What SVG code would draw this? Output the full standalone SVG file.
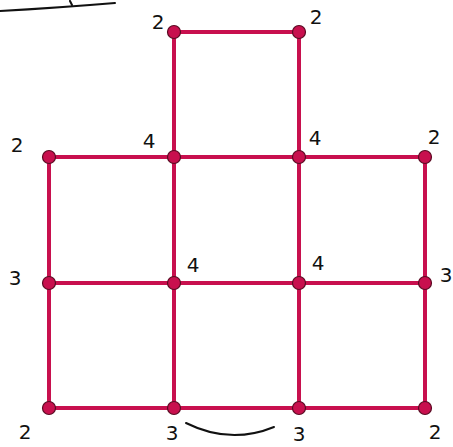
<svg xmlns="http://www.w3.org/2000/svg" width="453" height="447" viewBox="0 0 453 447">
<style>
.e{stroke:#c8104e;stroke-width:4;stroke-linecap:round;fill:none}
.n{fill:#c8104e;stroke:#5a0a22;stroke-width:1.2}
.l{font-family:"Comic Sans MS","DejaVu Sans",sans-serif;font-size:20px;fill:#111;text-anchor:middle}
.s{stroke:#111;stroke-width:2;fill:none;stroke-linecap:round}
</style>
<rect width="453" height="447" fill="#fff"/>
<g id="connectors">
<line class="e" x1="174" y1="32" x2="299" y2="32"/>
<line class="e" x1="174" y1="32" x2="174" y2="408"/>
<line class="e" x1="299" y1="32" x2="299" y2="408"/>
<line class="e" x1="49" y1="157" x2="425" y2="157"/>
<line class="e" x1="49" y1="283" x2="425" y2="283"/>
<line class="e" x1="49" y1="408" x2="425" y2="408"/>
<line class="e" x1="49" y1="157" x2="49" y2="408"/>
<line class="e" x1="425" y1="157" x2="425" y2="408"/>
</g>
<g id="n1"><circle class="n" cx="174" cy="32" r="6.5"/><text class="l" x="158" y="29">2</text></g>
<g id="n2"><circle class="n" cx="299" cy="32" r="6.5"/><text class="l" x="316" y="24">2</text></g>
<g id="n3"><circle class="n" cx="49" cy="157" r="6.5"/><text class="l" x="17" y="152">2</text></g>
<g id="n4"><circle class="n" cx="174" cy="157" r="6.5"/><text class="l" x="149" y="148">4</text></g>
<g id="n5"><circle class="n" cx="299" cy="157" r="6.5"/><text class="l" x="315" y="145">4</text></g>
<g id="n6"><circle class="n" cx="425" cy="157" r="6.5"/><text class="l" x="434" y="144">2</text></g>
<g id="n7"><circle class="n" cx="49" cy="283" r="6.5"/><text class="l" x="15" y="285">3</text></g>
<g id="n8"><circle class="n" cx="174" cy="283" r="6.5"/><text class="l" x="193" y="272">4</text></g>
<g id="n9"><circle class="n" cx="299" cy="283" r="6.5"/><text class="l" x="318" y="270">4</text></g>
<g id="n10"><circle class="n" cx="425" cy="283" r="6.5"/><text class="l" x="446" y="282">3</text></g>
<g id="n11"><circle class="n" cx="49" cy="408" r="6.5"/><text class="l" x="25" y="439">2</text></g>
<g id="n12"><circle class="n" cx="174" cy="408" r="6.5"/><text class="l" x="172" y="440">3</text></g>
<g id="n13"><circle class="n" cx="299" cy="408" r="6.5"/><text class="l" x="299" y="441">3</text></g>
<g id="n14"><circle class="n" cx="425" cy="408" r="6.5"/><text class="l" x="435" y="439">2</text></g>
<path class="s" d="M0,11 Q55,8 115,3"/>
<path class="s" d="M70,1 L72,5"/>
<path class="s" d="M186,423 Q230,445 274,427"/>
</svg>
